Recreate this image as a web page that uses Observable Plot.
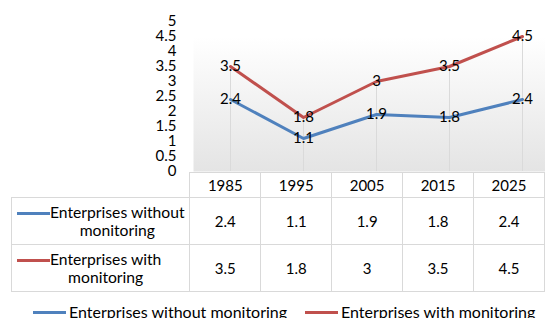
<!DOCTYPE html>
<html>
<head>
<meta charset="utf-8">
<script src="https://cdn.jsdelivr.net/npm/d3@7"></script>
<script src="https://cdn.jsdelivr.net/npm/@observablehq/plot@0.6"></script>
<style>
  html, body { margin: 0; padding: 0; background: #fff; overflow: hidden; }
  #wrap { position: relative; width: 545px; height: 318px; overflow: hidden; font-family: Lato, "DejaVu Sans", sans-serif; color: #000; }
  #chart { position: absolute; left: 0; top: 0; }
  table.dt { position: absolute; left: 11px; top: 172px; border-collapse: collapse; table-layout: fixed; font-size: 15px; }
  table.dt td { border: 1px solid #d9d9d9; text-align: center; padding: 0; }
  table.dt td.blank { border: none; border-bottom: 1px solid #d9d9d9; }
  table.dt tr.hdr td { height: 24px; }
  table.dt tr.val td { height: 46px; }
  table.dt td.name { text-align: left; font-size: 15.7px; }
  .nm { display: flex; align-items: flex-start; padding-left: 5px; }
  .key { display: inline-block; width: 33px; height: 3px; margin-top: 9px; flex: none; }
  .nmtxt { display: inline-block; text-align: center; line-height: 18px; }
  #legend { position: absolute; left: 0; top: 303px; width: 545px; font-size: 16px; line-height: 18px; white-space: nowrap; }
  #legend .it { position: absolute; top: 0; display: flex; align-items: center; }
  #legend .key { margin-top: 0; margin-right: 3px; }
</style>
</head>
<body>
<div id="wrap">
  <div id="chart"></div>
  <table class="dt" id="dt"></table>
  <div id="legend"></div>
</div>
<script>
const years = ["1985", "1995", "2005", "2015", "2025"];
const withoutMonitoring = [2.4, 1.1, 1.9, 1.8, 2.4];
const withMonitoring = [3.5, 1.8, 3, 3.5, 4.5];
const seriesNames = ["Enterprises without monitoring", "Enterprises with monitoring"];
const seriesColors = ["#4F81BD", "#C0504D"];
const yTicks = [0, 0.5, 1, 1.5, 2, 2.5, 3, 3.5, 4, 4.5, 5];
const tableNames = [["Enterprises without", "monitoring"], ["Enterprises with", "monitoring"]];

const seriesValues = [withoutMonitoring, withMonitoring];
const data = [];
seriesValues.forEach((vals, s) => vals.forEach((v, i) => data.push({ series: seriesNames[s], year: years[i], value: v })));
const drops = years.map((y, i) => ({ year: y, top: Math.max(withoutMonitoring[i], withMonitoring[i]) }));

const gradientDefs = () => {
  const defs = d3.create("svg:defs");
  const g = defs.append("linearGradient").attr("id", "bgGrad").attr("x1", 0).attr("y1", 0).attr("x2", 0).attr("y2", 1);
  g.append("stop").attr("offset", "0%").attr("stop-color", "#ffffff");
  g.append("stop").attr("offset", "10%").attr("stop-color", "#ffffff");
  g.append("stop").attr("offset", "100%").attr("stop-color", "#e4e4e4");
  return defs.node();
};

const chart = Plot.plot({
  width: 545,
  height: 180,
  marginLeft: 193,
  marginRight: 0,
  marginTop: 21,
  marginBottom: 9,
  style: { fontFamily: "Lato, 'DejaVu Sans', sans-serif", background: "transparent", overflow: "visible" },
  x: { type: "point", domain: years, range: [193, 558], padding: 0.5, axis: null },
  y: { domain: [0, 5], axis: null },
  color: { domain: seriesNames, range: seriesColors },
  marks: [
    gradientDefs,
    Plot.frame({ fill: "url(#bgGrad)", stroke: "none" }),
    Plot.ruleX(drops, { x: "year", y1: 0, y2: "top", stroke: "#dadada", strokeWidth: 1 }),
    Plot.axisY(yTicks, { tickSize: 0, tickPadding: 17, fontSize: 15, fill: "#000", tickFormat: d => String(d) }),
    Plot.line(data, { x: "year", y: "value", z: "series", stroke: "series", strokeWidth: 3 }),
    Plot.text(data, { x: "year", y: "value", text: d => String(d.value), fontSize: 15, fill: "#000" })
  ]
});
document.getElementById("chart").appendChild(chart);

// data table
const dt = d3.select("#dt");
const cg = dt.append("colgroup");
cg.append("col").style("width", "182px");
years.forEach(() => cg.append("col").style("width", "73px"));
const hdr = dt.append("tr").attr("class", "hdr");
hdr.append("td").attr("class", "blank");
years.forEach(y => hdr.append("td").text(y));
seriesValues.forEach((vals, s) => {
  const tr = dt.append("tr").attr("class", "val");
  const nm = tr.append("td").attr("class", "name").append("div").attr("class", "nm");
  nm.append("span").attr("class", "key").style("background", seriesColors[s]);
  nm.append("span").attr("class", "nmtxt").html(tableNames[s].join("<br>"));
  vals.forEach(v => tr.append("td").text(String(v)));
});

// legend
const lg = d3.select("#legend");
const lgLeft = [33, 305];
seriesNames.forEach((n, s) => {
  const it = lg.append("div").attr("class", "it").style("left", lgLeft[s] + "px");
  it.append("span").attr("class", "key").style("background", seriesColors[s]);
  it.append("span").text(n);
});
</script>
</body>
</html>
